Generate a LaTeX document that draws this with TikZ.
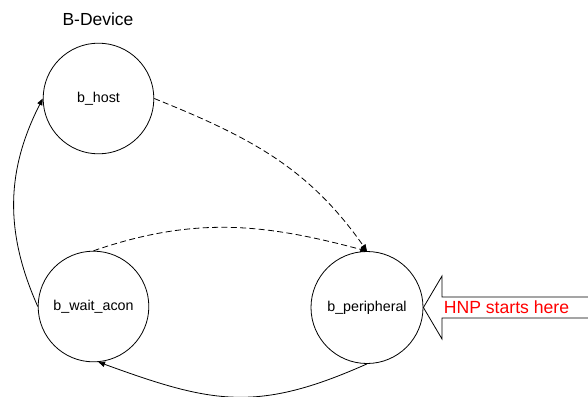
\documentclass[tikz,border=0pt]{standalone}
\usepackage{fontspec}
\setmainfont{Liberation Sans}
\usetikzlibrary{arrows.meta}
\begin{document}
\begin{tikzpicture}[x=0.75pt,y=-0.75pt,
    state/.style={draw,circle,line width=0.6pt,minimum size=83pt,inner sep=0pt,font=\fontsize{10.7}{12}\selectfont},
    trans/.style={line width=0.6pt,-{Triangle[length=5pt,width=4pt]}},
    dashtrans/.style={trans,dash pattern=on 4.5pt off 2.5pt}]
	  \useasboundingbox (0,0) rectangle (588,396);
	  \node (title) at (98,19) {\fontsize{13.1}{15}\selectfont B-Device};
	  \node [state] (host) at (98.5,98.5) {b\_host};
	  \node [state] (wait) at (93.5,306.5) {b\_wait\_acon};
	  \node [state,minimum size=84pt] (peri) at (367,307.5) {b\_peripheral};
	  \draw [dashtrans] (host.east) to [out=-22,in=125] (peri.north);
	  \draw [dashtrans] (wait.north) to [out=19,in=165] (peri.north);
	  \draw [trans] (wait.west) to [out=114,in=243] (host.west);
	  \draw [trans] (peri.south) to [out=204,in=-20,looseness=1.15] (wait.-85);
	  \draw [line width=0.6pt] (588,297) -- (442,297) -- (442,276) -- (peri.east) -- (442,339) -- (442,318) -- (588,318);
	  \node [text=red,font=\fontsize{13.2}{15}\selectfont] (hnp) at (506.5,307.5) {HNP starts here};
\end{tikzpicture}
\end{document}
